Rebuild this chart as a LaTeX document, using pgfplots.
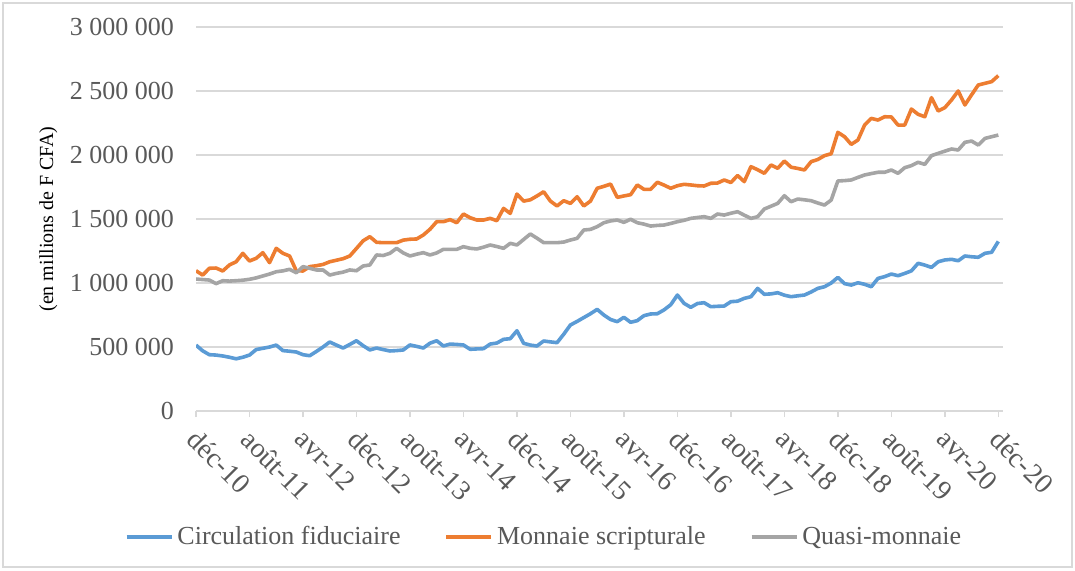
\documentclass[border=0pt]{standalone}
\usepackage{fontspec}
\setmainfont{Liberation Serif}
\usepackage{pgfplots}
\usepackage{pgfplotstable}
\pgfplotsset{compat=1.18}
\definecolor{cblue}{HTML}{5B9BD5}
\definecolor{corange}{HTML}{ED7D31}
\definecolor{cgray}{HTML}{A5A5A5}
\definecolor{cgrid}{HTML}{D9D9D9}
\definecolor{ctext}{HTML}{595959}

% values in thousands of millions of F CFA
\pgfplotstableread{
i b o g
0 515 1096 1031
1 470 1062 1027
2 440 1115 1023
3 437 1117 995
4 430 1094 1018
5 420 1141 1015
6 408 1166 1018
7 420 1232 1022
8 437 1172 1029
9 480 1193 1040
10 490 1237 1055
11 500 1159 1070
12 515 1271 1088
13 472 1232 1095
14 467 1211 1107
15 461 1095 1080
16 440 1094 1128
17 432 1128 1115
18 465 1135 1102
19 500 1145 1102
20 539 1166 1062
21 515 1178 1075
22 492 1190 1085
23 520 1211 1102
24 549 1270 1096
25 510 1330 1133
26 477 1362 1141
27 492 1318 1219
28 480 1315 1215
29 469 1315 1232
30 472 1315 1271
31 477 1335 1235
32 516 1342 1211
33 505 1344 1225
34 492 1375 1237
35 530 1420 1219
36 549 1479 1235
37 508 1479 1263
38 523 1495 1263
39 520 1471 1263
40 516 1539 1284
41 482 1510 1271
42 485 1492 1266
43 487 1492 1280
44 523 1505 1297
45 531 1487 1285
46 560 1583 1271
47 565 1544 1310
48 627 1695 1297
49 529 1640 1340
50 515 1650 1383
51 508 1680 1350
52 547 1713 1315
53 540 1640 1315
54 534 1602 1315
55 600 1643 1320
56 672 1622 1336
57 700 1674 1349
58 730 1602 1414
59 760 1640 1419
60 794 1740 1440
61 750 1755 1471
62 715 1773 1485
63 698 1669 1492
64 732 1680 1474
65 693 1690 1498
66 706 1766 1471
67 745 1732 1460
68 758 1732 1445
69 760 1787 1450
70 790 1765 1453
71 830 1740 1465
72 906 1760 1479
73 841 1771 1490
74 810 1766 1505
75 840 1760 1512
76 846 1758 1518
77 815 1779 1505
78 818 1781 1539
79 820 1805 1531
80 854 1785 1545
81 858 1840 1557
82 880 1792 1530
83 893 1909 1505
84 958 1885 1518
85 912 1857 1578
86 915 1922 1600
87 924 1896 1622
88 905 1953 1682
89 893 1905 1635
90 900 1895 1656
91 906 1883 1650
92 930 1948 1643
93 958 1965 1625
94 971 1995 1609
95 1000 2010 1648
96 1044 2177 1797
97 995 2143 1800
98 984 2083 1805
99 1002 2117 1825
100 990 2234 1844
101 971 2286 1855
102 1036 2273 1865
103 1050 2299 1865
104 1070 2297 1883
105 1057 2234 1857
106 1075 2234 1901
107 1095 2359 1917
108 1154 2318 1943
109 1140 2299 1927
110 1122 2448 1995
111 1166 2344 2013
112 1180 2370 2030
113 1185 2430 2047
114 1174 2500 2039
115 1211 2391 2099
116 1205 2470 2109
117 1201 2547 2078
118 1232 2560 2130
119 1240 2573 2143
120 1325 2620 2156
}\data

\begin{document}
\begin{tikzpicture}
\path[use as bounding box] (0pt,0pt) rectangle (537.5pt,285pt);
\draw[cgrid, line width=0.6pt] (1.5pt,1.5pt) rectangle (536pt,283.5pt);
\begin{axis}[
  at={(98pt,79.5pt)}, anchor=south west,
  scale only axis, width=403.5pt, height=192pt,
  xmin=0, xmax=120.7, ymin=0, ymax=3000000,
  separate axis lines,
  axis x line*=bottom, axis y line*=left,
  y axis line style={draw=none},
  x axis line style={cgrid, line width=0.8pt},
  ytick={0,500000,...,3000000},
  ytick style={draw=none},
  xtick={0,8,...,120},
  xticklabels={déc-10,août-11,avr-12,déc-12,août-13,avr-14,déc-14,août-15,avr-16,déc-16,août-17,avr-18,déc-18,août-19,avr-20,déc-20},
  xtick style={cgrid, line width=0.8pt},
  xtick align=outside, major tick length=3pt,
  ymajorgrids, grid style={cgrid, line width=0.8pt},
  scaled y ticks=false,
  /pgf/number format/fixed,
  /pgf/number format/1000 sep={\ },
  /pgf/number format/assume math mode=true,
  tick label style={font=\fontsize{13}{15}\selectfont, text=ctext},
  yticklabel style={xshift=-7.5pt},
  xticklabel style={font=\fontsize{14}{16}\selectfont, rotate=-45, anchor=north west, xshift=1.5pt, yshift=1pt},
  ylabel={(en millions de F CFA)},
  ylabel style={font=\fontsize{14.5}{16}\selectfont, text=ctext},
  every axis y label/.style={at={(axis description cs:-0.183,0.5)}, rotate=90, anchor=center},
  legend columns=3,
  legend style={at={(axis description cs:0.4325,-0.328)}, anchor=center, draw=none, fill=none,
    font=\fontsize{13}{15}\selectfont, text=ctext,
    /tikz/every even column/.append style={column sep=20pt}},
  legend image code/.code={\draw (0pt,0pt) -- (22.5pt,0pt);},
  every axis plot/.append style={line width=1.8pt, line join=round},
]
\addplot[cblue] table[x=i, y expr=\thisrow{b}*1000] {\data};
\addlegendentry{Circulation fiduciaire}
\addplot[corange] table[x=i, y expr=\thisrow{o}*1000] {\data};
\addlegendentry{Monnaie scripturale}
\addplot[cgray] table[x=i, y expr=\thisrow{g}*1000] {\data};
\addlegendentry{Quasi-monnaie}
\end{axis}
\end{tikzpicture}
\end{document}
